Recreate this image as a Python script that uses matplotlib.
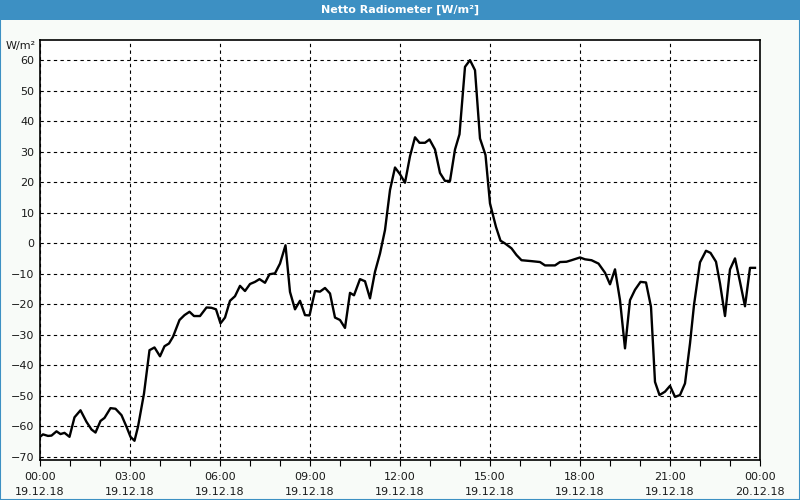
import matplotlib
matplotlib.use('Agg')
import matplotlib.pyplot as plt
from matplotlib.patches import Rectangle
from matplotlib.ticker import MultipleLocator, FixedLocator
import numpy as np

# minutes after 19.12.18 00:00
minutes = [0, 6, 16, 23, 33, 41, 49, 59, 69, 81, 93, 103, 111, 121, 129, 141, 151, 163,
           173, 181, 189, 196, 208, 219, 229, 240, 249, 258, 266, 279, 289, 299, 308, 320,
           333, 343, 352, 361, 370, 380, 390, 400, 410, 420, 430, 439, 450, 459, 470, 480,
           491, 500, 510, 520, 530, 539, 550, 560, 570, 580, 590, 600, 610, 620, 628, 640,
           650, 660, 670, 680, 690, 700, 710, 720, 730, 740, 750, 759, 770, 779, 790, 800,
           810, 820, 830, 839, 850, 860, 870, 880, 891, 900, 912, 921, 930, 943, 953, 963,
           983, 1000, 1010, 1030, 1040, 1053, 1063, 1080, 1090, 1103, 1117, 1130, 1140, 1150,
           1160, 1170, 1180, 1190, 1201, 1212, 1222, 1230, 1239, 1250, 1260, 1270, 1280, 1290,
           1300, 1308, 1320, 1332, 1341, 1352, 1360, 1370, 1380, 1390, 1400, 1410, 1420, 1430]
values = [-63.4, -62.6, -63.1, -63.0, -61.6, -62.5, -62.1, -63.4, -57.0, -54.7, -58.5, -61.0,
          -62.0, -58.2, -57.2, -54.0, -54.2, -56.3, -60.1, -63.4, -64.7, -60.1, -49.2, -35.0,
          -34.1, -37.0, -33.7, -32.8, -30.6, -25.1, -23.5, -22.4, -23.8, -23.8, -21.0, -21.1,
          -21.6, -26.2, -24.3, -18.8, -17.3, -13.9, -15.6, -13.3, -12.6, -11.7, -12.9, -10.1,
          -9.8, -6.6, -0.6, -15.9, -21.6, -18.8, -23.5, -23.6, -15.6, -15.8, -14.6, -16.4,
          -24.3, -25.1, -27.7, -16.2, -17.0, -11.7, -12.4, -18.0, -9.3, -3.3, 4.4, 17.5, 24.9,
          22.7, 19.9, 28.6, 34.8, 33.0, 33.0, 34.1, 30.8, 23.1, 20.5, 20.5, 30.8, 35.8, 57.9,
          60.1, 56.8, 34.4, 29.0, 13.1, 5.4, 0.9, 0.0, -1.6, -3.8, -5.5, -5.8, -6.1, -7.2,
          -7.2, -6.1, -6.0, -5.5, -4.6, -5.2, -5.5, -6.6, -9.6, -13.4, -8.5, -18.6, -34.4,
          -18.6, -15.2, -12.6, -12.8, -20.8, -45.4, -49.7, -48.6, -46.7, -50.3, -49.7, -45.9,
          -32.8, -20.2, -6.2, -2.4, -3.1, -6.0, -13.1, -23.8, -8.5, -4.9, -12.6, -20.6, -8.0,
          -8.0]

tick_hours = [0, 3, 6, 9, 12, 15, 18, 21, 24]
tick_labels = ['00:00\n19.12.18', '03:00\n19.12.18', '06:00\n19.12.18', '09:00\n19.12.18',
               '12:00\n19.12.18', '15:00\n19.12.18', '18:00\n19.12.18', '21:00\n19.12.18',
               '00:00\n20.12.18']
y_ticks = list(range(-70, 61, 10))

title = 'Netto Radiometer [W/m²]'
unit = 'W/m²'

blue = '#3d90c3'
txt = '#1a1a1a'

fig = plt.figure(figsize=(8, 5), dpi=100)
fig.patch.set_facecolor('#f8fbf8')

# title bar + frame
fig.patches.append(Rectangle((0, 1 - 20 / 500), 1, 20 / 500, transform=fig.transFigure,
                             facecolor=blue, edgecolor='none', zorder=0))
fig.patches.append(Rectangle((0, 0), 1, 1, transform=fig.transFigure, facecolor='none',
                             edgecolor=blue, linewidth=1.5, zorder=1))
fig.text(0.5, 1 - 10 / 500, title, color='white', fontsize=8, fontweight='bold',
         ha='center', va='center')

ax = fig.add_axes([40 / 800, 40 / 500, 720 / 800, 420 / 500])
ax.set_facecolor('white')

hours = np.array(minutes) / 60.0
ax.plot(hours, values, color='black', linewidth=1.7, zorder=3)

ax.set_xlim(0, 24)
ax.set_ylim(-71.0, 66.7)
ax.xaxis.set_major_locator(FixedLocator(tick_hours))
ax.xaxis.set_minor_locator(MultipleLocator(1))
ax.set_xticklabels(tick_labels, linespacing=1.6)
ax.set_yticks(y_ticks)
ax.grid(True, which='major', color='black', linestyle=(0, (3, 3)), linewidth=0.8)

ax.tick_params(axis='x', which='both', direction='out', length=4, width=0.8,
               labelsize=8, labelcolor=txt, pad=4.5)
ax.tick_params(axis='y', which='both', length=0, labelsize=8, labelcolor=txt, pad=4)
for s in ax.spines.values():
    s.set_linewidth(1.2)
    s.set_color('black')

fig.text(36 / 800, 1 - 46 / 500, unit, fontsize=8, color=txt, ha='right', va='center')

fig.savefig('out.png', dpi=100, facecolor=fig.get_facecolor())
